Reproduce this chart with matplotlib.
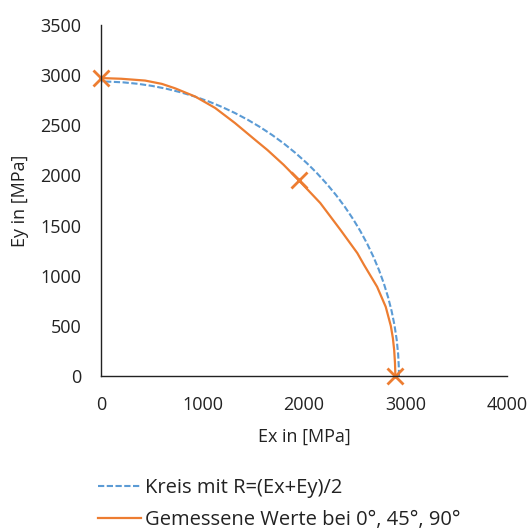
import matplotlib
matplotlib.use("Agg")
import matplotlib.pyplot as plt
from matplotlib.patches import Arc
from matplotlib.lines import Line2D

# measured stiffness at 0 deg, 45 deg, 90 deg
ex_meas = [0, 1950, 2900]
ey_meas = [2970, 1950, 0]

curve_x = [0, 200, 435, 600, 730, 930, 1125, 1320, 1520, 1640, 1800, 1950,
           2160, 2360, 2525, 2590, 2720, 2805, 2855, 2875, 2888, 2896, 2900]
curve_y = [2970, 2963, 2945, 2912, 2868, 2785, 2672, 2522, 2353, 2253, 2105,
           1950, 1725, 1456, 1226, 1110, 890, 690, 500, 380, 260, 130, 0]

x_ticks = [0, 1000, 2000, 3000, 4000]
y_ticks = [0, 500, 1000, 1500, 2000, 2500, 3000, 3500]

blue = "#5B9BD5"
orange = "#ED7D31"
plt.rcParams["font.family"] = ["Open Sans", "DejaVu Sans"]
plt.rcParams["font.size"] = 13

fig = plt.figure(figsize=(5.31, 5.29), dpi=100)
ax = fig.add_axes([0.190, 0.289, 0.765, 0.664])

# circle with R = (Ex + Ey) / 2
R = (ex_meas[-1] + ey_meas[0]) / 2
ax.add_patch(Arc((0, 0), 2 * R, 2 * R, theta1=0, theta2=90,
                 color=blue, lw=1.5, linestyle=(0, (3, 1.2))))

ax.plot(curve_x, curve_y, color=orange, lw=1.6)
ax.plot(ex_meas, ey_meas, linestyle="none", marker="x", color=orange,
        markersize=11, markeredgewidth=2, clip_on=False)

ax.set_xlim(0, 4000)
ax.set_ylim(0, 3500)
ax.set_xticks(x_ticks)
ax.set_yticks(y_ticks)
ax.tick_params(axis="y", length=0, pad=14, colors="#222222")
ax.tick_params(axis="x", length=0, pad=14, colors="#222222")
for s in ["top", "right"]:
    ax.spines[s].set_visible(False)
for s in ["left", "bottom"]:
    ax.spines[s].set_color("#222222")
    ax.spines[s].set_linewidth(1.0)

ax.set_xlabel("Ex in [MPa]", labelpad=10, color="#222222")
ax.set_ylabel("Ey in [MPa]", labelpad=8, color="#222222")

handles = [
    Line2D([], [], color=blue, lw=1.5, linestyle=(0, (3, 1.2))),
    Line2D([], [], color=orange, lw=1.6),
]
labels = ["Kreis mit R=(Ex+Ey)/2", "Gemessene Werte bei 0°, 45°, 90°"]
fig.legend(handles, labels, loc="upper left", bbox_to_anchor=(0.17, 0.111),
           frameon=False, handlelength=2.1, handletextpad=0.2,
           labelspacing=0.6, borderaxespad=0, labelcolor="#222222",
           fontsize=14.5)

fig.savefig("out.png", dpi=100)
